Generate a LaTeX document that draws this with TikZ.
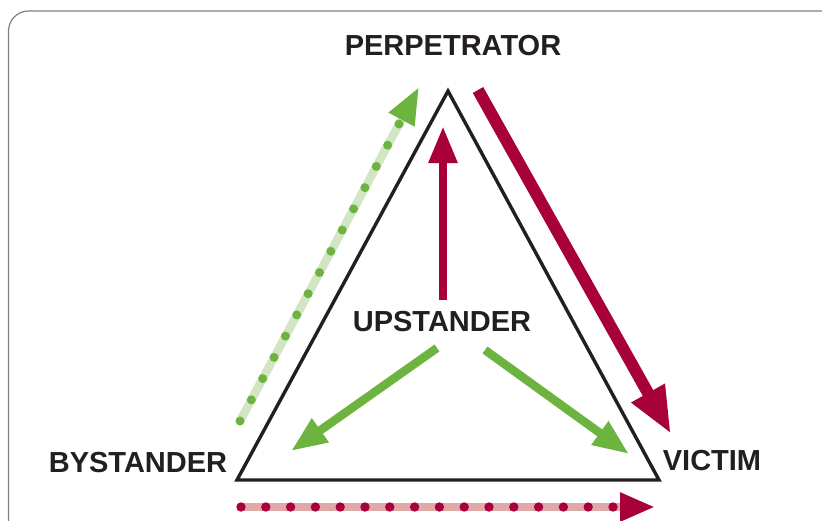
\documentclass[tikz,border=0pt]{standalone}
\usepackage{fontspec}
\setsansfont{Liberation Sans}
\usetikzlibrary{arrows.meta,calc}
\definecolor{crimson}{HTML}{A8003A}
\definecolor{leaf}{HTML}{6DB33F}
\definecolor{paleleaf}{HTML}{D3E6C4}
\definecolor{palecrimson}{HTML}{E0A8A6}
\definecolor{ink}{HTML}{231F20}
\tikzset{
  role/.style={font=\sffamily\bfseries\fontsize{29}{34}\selectfont,text=ink,inner sep=0pt},
  band/.style={line width=8.5pt},
}

\begin{document}
\begin{tikzpicture}[x=1pt,y=-1pt]
\useasboundingbox (0,0) rectangle (822,520);
\clip (0,0) rectangle (822,520);
\draw[gray,line width=1.2pt,rounded corners=20pt] (8.5,11) rectangle (850,560);

% triangle
\coordinate (top) at (448,91);
\coordinate (left) at (237,480);
\coordinate (right) at (659,480);
\draw[ink,line width=3.4pt,line join=miter] (top) -- (left) -- (right) -- cycle;

% roles
\node[role] (perp) at (453,46) {PERPETRATOR};
\node[role] (by) at (138,463) {BYSTANDER};
\node[role] (vic) at (712,461) {VICTIM};
\node[role] (up) at (442,322) {UPSTANDER};

% arrow ends
\coordinate (u0) at (443,300); \coordinate (u1) at (443,126);
\coordinate (p0) at (478,90);  \coordinate (p1) at (671,434);
\coordinate (l0) at (437,348); \coordinate (l1) at (291,451);
\coordinate (r0) at (485,350); \coordinate (r1) at (629,454);
\coordinate (g0) at (240,421); \coordinate (g1) at (419,87); \coordinate (gd) at (399,124);
\coordinate (b0) at (241,507); \coordinate (b1) at (655,507); \coordinate (bd) at (613,507);

% solid arrows
\draw[crimson,line width=8.5pt,-{Triangle[length=37pt,width=27pt]}] (u0) -- (u1);
\draw[crimson,line width=12pt,-{Triangle[length=47pt,width=35pt]}] (p0) -- (p1);
\draw[leaf,line width=8.5pt,-{Triangle[length=36pt,width=27pt]}] (l0) -- (l1);
\draw[leaf,line width=8.5pt,-{Triangle[length=36pt,width=27pt]}] (r0) -- (r1);

% dotted arrows
\draw[paleleaf,band,-{Triangle[length=37pt,width=27pt,color=leaf]}] (g0) -- (g1);
\foreach \k in {0,...,14} \fill[leaf] ($(g0)!\k/14!(gd)$) circle (4.5pt);
\draw[palecrimson,band,-{Triangle[length=35pt,width=27pt,color=crimson]}] (b0) -- (b1);
\foreach \k in {0,...,15} \fill[crimson] ($(b0)!\k/15!(bd)$) circle (4.7pt);
\end{tikzpicture}
\end{document}
